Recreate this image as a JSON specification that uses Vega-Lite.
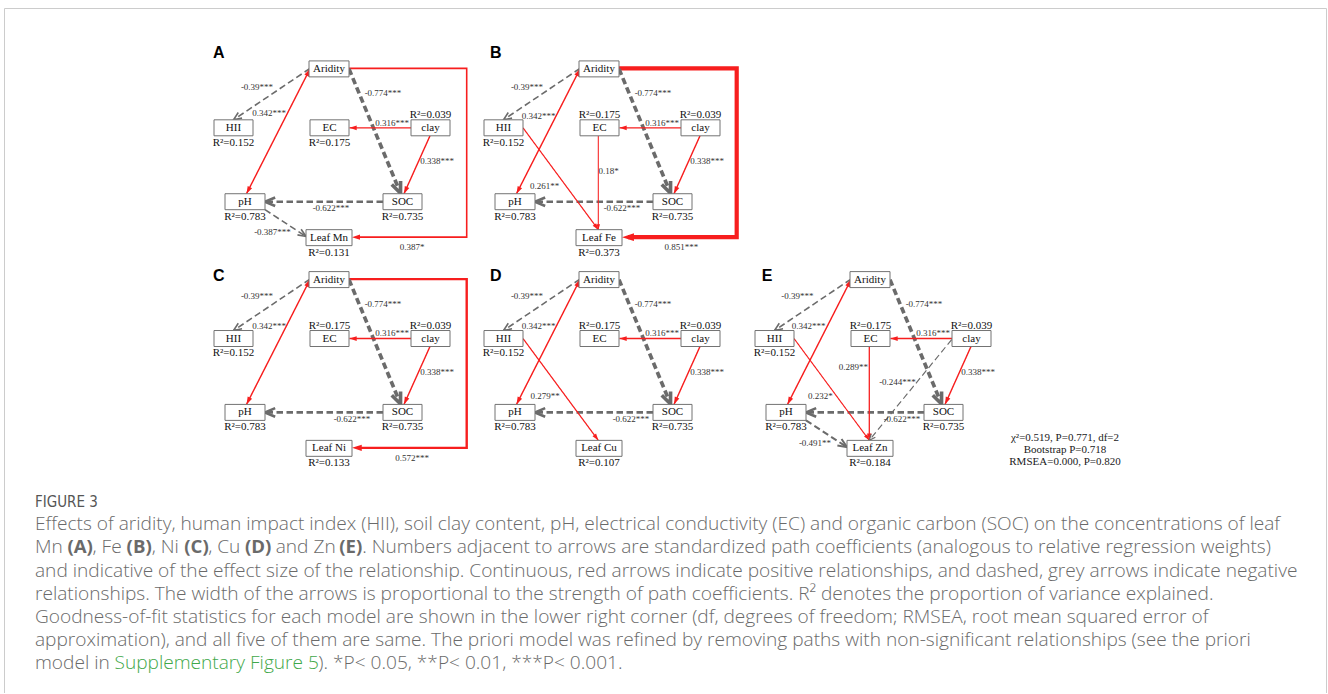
{
"$schema": "https://vega.github.io/schema/vega-lite/v6.json",
"width": 1328,
"height": 694,
"autosize": {"type": "fit", "contains": "padding"},
"padding": 0,
"background": "#ffffff",
"config": {"view": {"stroke": null}},
"datasets": {
"panels": [
{"p":"A","ox":0,"oy":0,"lx":213,"ly":58.3},
{"p":"B","ox":270,"oy":0,"lx":490,"ly":58.3},
{"p":"C","ox":0,"oy":211,"lx":213,"ly":281.7},
{"p":"D","ox":270,"oy":211,"lx":490,"ly":281.7},
{"p":"E","ox":541,"oy":211,"lx":761.7,"ly":281.7}
],
"layout": [
{"k":"Aridity","cx":329,"cy":69,"w":40},
{"k":"HII","cx":233.5,"cy":128,"w":39},
{"k":"EC","cx":329.5,"cy":128,"w":39},
{"k":"clay","cx":430.5,"cy":128,"w":39},
{"k":"pH","cx":245,"cy":202,"w":40},
{"k":"SOC","cx":402.5,"cy":202,"w":39},
{"k":"Leaf","cx":329,"cy":238,"w":46}
],
"nodes": [
{"p":"A","k":"Aridity","t":"Aridity"},
{"p":"A","k":"HII","t":"HII","r2":0.152,"s":"below"},
{"p":"A","k":"EC","t":"EC","r2":0.175,"s":"below"},
{"p":"A","k":"clay","t":"clay","r2":0.039,"s":"above"},
{"p":"A","k":"pH","t":"pH","r2":0.783,"s":"below"},
{"p":"A","k":"SOC","t":"SOC","r2":0.735,"s":"below"},
{"p":"A","k":"Leaf","t":"Leaf Mn","r2":0.131,"s":"below"},
{"p":"B","k":"Aridity","t":"Aridity"},
{"p":"B","k":"HII","t":"HII","r2":0.152,"s":"below"},
{"p":"B","k":"EC","t":"EC","r2":0.175,"s":"above"},
{"p":"B","k":"clay","t":"clay","r2":0.039,"s":"above"},
{"p":"B","k":"pH","t":"pH","r2":0.783,"s":"below"},
{"p":"B","k":"SOC","t":"SOC","r2":0.735,"s":"below"},
{"p":"B","k":"Leaf","t":"Leaf Fe","r2":0.373,"s":"below"},
{"p":"C","k":"Aridity","t":"Aridity"},
{"p":"C","k":"HII","t":"HII","r2":0.152,"s":"below"},
{"p":"C","k":"EC","t":"EC","r2":0.175,"s":"above"},
{"p":"C","k":"clay","t":"clay","r2":0.039,"s":"above"},
{"p":"C","k":"pH","t":"pH","r2":0.783,"s":"below"},
{"p":"C","k":"SOC","t":"SOC","r2":0.735,"s":"below"},
{"p":"C","k":"Leaf","t":"Leaf Ni","r2":0.133,"s":"below"},
{"p":"D","k":"Aridity","t":"Aridity"},
{"p":"D","k":"HII","t":"HII","r2":0.152,"s":"below"},
{"p":"D","k":"EC","t":"EC","r2":0.175,"s":"above"},
{"p":"D","k":"clay","t":"clay","r2":0.039,"s":"above"},
{"p":"D","k":"pH","t":"pH","r2":0.783,"s":"below"},
{"p":"D","k":"SOC","t":"SOC","r2":0.735,"s":"below"},
{"p":"D","k":"Leaf","t":"Leaf Cu","r2":0.107,"s":"below"},
{"p":"E","k":"Aridity","t":"Aridity"},
{"p":"E","k":"HII","t":"HII","r2":0.152,"s":"below"},
{"p":"E","k":"EC","t":"EC","r2":0.175,"s":"above"},
{"p":"E","k":"clay","t":"clay","r2":0.039,"s":"above"},
{"p":"E","k":"pH","t":"pH","r2":0.783,"s":"below"},
{"p":"E","k":"SOC","t":"SOC","r2":0.735,"s":"below"},
{"p":"E","k":"Leaf","t":"Leaf Zn","r2":0.184,"s":"below"}
],
"routes": [
{"r":"AH","x1":310,"y1":68.5,"x2":233.5,"y2":120},
{"r":"AP","x1":310,"y1":69,"x2":246.5,"y2":194,"two":true},
{"r":"AS","x1":349,"y1":69,"x2":400.5,"y2":193.5},
{"r":"CE","x1":411,"y1":128,"x2":349.5,"y2":128},
{"r":"CS","x1":430,"y1":136,"x2":404,"y2":194},
{"r":"SP","x1":383,"y1":202,"x2":265,"y2":202},
{"r":"PL","x1":265,"y1":210,"x2":306,"y2":236.8},
{"r":"HL","x1":253,"y1":128,"x2":328.3,"y2":230},
{"r":"EL","x1":328.3,"y1":136,"x2":328.3,"y2":230},
{"r":"CL","x1":410.7,"y1":129,"x2":328.3,"y2":230},
{"r":"ARL","x1":466.7,"y1":237.5,"x2":352,"y2":237.5,"bend":true}
],
"edges": [
{"p":"A","r":"AH","c":-0.39,"g":"***","lx":257,"ly":86.7},
{"p":"A","r":"AP","c":0.342,"g":"***","lx":269,"ly":113.3},
{"p":"A","r":"AS","c":-0.774,"g":"***","lx":383,"ly":93.2},
{"p":"A","r":"CE","c":0.316,"g":"***","lx":392,"ly":122.7},
{"p":"A","r":"CS","c":0.338,"g":"***","lx":437,"ly":161.5},
{"p":"A","r":"SP","c":-0.622,"g":"***","lx":331,"ly":208.4},
{"p":"A","r":"PL","c":-0.387,"g":"***","lx":272.5,"ly":232.7},
{"p":"A","r":"ARL","c":0.387,"g":"*","lx":412,"ly":247.3},
{"p":"B","r":"AH","c":-0.39,"g":"***","lx":257,"ly":86.7},
{"p":"B","r":"AP","c":0.342,"g":"***","lx":268.5,"ly":116},
{"p":"B","r":"AS","c":-0.774,"g":"***","lx":383,"ly":93.2},
{"p":"B","r":"CE","c":0.316,"g":"***","lx":392,"ly":122.7},
{"p":"B","r":"CS","c":0.338,"g":"***","lx":437,"ly":161.5},
{"p":"B","r":"SP","c":-0.622,"g":"***","lx":352,"ly":208.4},
{"p":"B","r":"HL","c":0.261,"g":"**","lx":274.7,"ly":186},
{"p":"B","r":"EL","c":0.18,"g":"*","lx":338.7,"ly":171},
{"p":"B","r":"ARL","c":0.851,"g":"***","lx":411.3,"ly":247.3},
{"p":"C","r":"AH","c":-0.39,"g":"***","lx":257,"ly":85.7},
{"p":"C","r":"AP","c":0.342,"g":"***","lx":269,"ly":115},
{"p":"C","r":"AS","c":-0.774,"g":"***","lx":383,"ly":93.2},
{"p":"C","r":"CE","c":0.316,"g":"***","lx":392,"ly":122.7},
{"p":"C","r":"CS","c":0.338,"g":"***","lx":437,"ly":161.5},
{"p":"C","r":"SP","c":-0.622,"g":"***","lx":352,"ly":209},
{"p":"C","r":"ARL","c":0.572,"g":"***","lx":412,"ly":247.3},
{"p":"D","r":"AH","c":-0.39,"g":"***","lx":257,"ly":85.7},
{"p":"D","r":"AP","c":0.342,"g":"***","lx":268.7,"ly":115},
{"p":"D","r":"AS","c":-0.774,"g":"***","lx":383,"ly":93.2},
{"p":"D","r":"CE","c":0.316,"g":"***","lx":392,"ly":122.7},
{"p":"D","r":"CS","c":0.338,"g":"***","lx":437,"ly":161.5},
{"p":"D","r":"SP","c":-0.622,"g":"***","lx":361,"ly":208.3},
{"p":"D","r":"HL","c":0.279,"g":"**","lx":275,"ly":185.7},
{"p":"E","r":"AH","c":-0.39,"g":"***","lx":256.3,"ly":85.7},
{"p":"E","r":"AP","c":0.342,"g":"***","lx":267.7,"ly":115},
{"p":"E","r":"AS","c":-0.774,"g":"***","lx":383,"ly":93.2},
{"p":"E","r":"CE","c":0.316,"g":"***","lx":392,"ly":122.7},
{"p":"E","r":"CS","c":0.338,"g":"***","lx":437,"ly":161.5},
{"p":"E","r":"SP","c":-0.622,"g":"***","lx":361,"ly":209},
{"p":"E","r":"HL","c":0.232,"g":"*","lx":279.3,"ly":185.7},
{"p":"E","r":"EL","c":0.289,"g":"**","lx":312.3,"ly":156.3},
{"p":"E","r":"CL","c":-0.244,"g":"***","lx":356.5,"ly":171.7},
{"p":"E","r":"PL","c":-0.491,"g":"**","lx":274,"ly":232.3}
],
"elbow": [
{"p":"A","i":0,"x":349,"y":68.5,"c":0.387},
{"p":"A","i":1,"x":466.7,"y":68.5,"c":0.387},
{"p":"A","i":2,"x":466.7,"y":237.5,"c":0.387},
{"p":"A","i":3,"x":358,"y":237.5,"c":0.387},
{"p":"B","i":0,"x":349,"y":68.5,"c":0.851},
{"p":"B","i":1,"x":466.7,"y":68.5,"c":0.851},
{"p":"B","i":2,"x":466.7,"y":237.5,"c":0.851},
{"p":"B","i":3,"x":358,"y":237.5,"c":0.851},
{"p":"C","i":0,"x":349,"y":68.5,"c":0.572},
{"p":"C","i":1,"x":466.7,"y":68.5,"c":0.572},
{"p":"C","i":2,"x":466.7,"y":237.5,"c":0.572},
{"p":"C","i":3,"x":358,"y":237.5,"c":0.572}
],
"stats": [
{"t":"χ²=0.519, P=0.771, df=2","x":1065,"y":438.3},
{"t":"Bootstrap P=0.718","x":1065,"y":450.7},
{"t":"RMSEA=0.000, P=0.820","x":1065,"y":462.7}
],
"frame": [
{"x1":4.5,"y1":8.5,"x2":1326.5,"y2":8.5},
{"x1":4.5,"y1":8.5,"x2":4.5,"y2":694},
{"x1":1326.5,"y1":8.5,"x2":1326.5,"y2":694}
],
"fig": [{"t":"FIGURE 3","x":35,"y":507.5}],
"plain": [
{"t":"Effects of aridity, human impact index (HII), soil clay content, pH, electrical conductivity (EC) and organic carbon (SOC) on the concentrations of leaf","x":35,"y":531},
{"t":"Mn","x":35,"y":554.2},
{"t":", Fe","x":92.5,"y":554.2},
{"t":", Ni","x":151.7,"y":554.2},
{"t":", Cu","x":208.2,"y":554.2},
{"t":"and Zn","x":275.7,"y":554.2},
{"t":". Numbers adjacent to arrows are standardized path coefficients (analogous to relative regression weights)","x":362.2,"y":554.2},
{"t":"and indicative of the effect size of the relationship. Continuous, red arrows indicate positive relationships, and dashed, grey arrows indicate negative","x":35,"y":577.4},
{"t":"relationships. The width of the arrows is proportional to the strength of path coefficients. R² denotes the proportion of variance explained.","x":35,"y":600.6},
{"t":"Goodness-of-fit statistics for each model are shown in the lower right corner (df, degrees of freedom; RMSEA, root mean squared error of","x":35,"y":623.8},
{"t":"approximation), and all five of them are same. The priori model was refined by removing paths with non-significant relationships (see the priori","x":35,"y":647},
{"t":"model in","x":35,"y":670.2},
{"t":"). *P< 0.05, **P< 0.01, ***P< 0.001.","x":318.3,"y":670.2}
],
"bold": [
{"t":"(A)","x":67.4,"y":554.2},
{"t":"(B)","x":126.6,"y":554.2},
{"t":"(C)","x":184.3,"y":554.2},
{"t":"(D)","x":245.0,"y":554.2},
{"t":"(E)","x":339.3,"y":554.2}
],
"green": [
{"t":"Supplementary Figure 5","x":114.5,"y":670.2}
]
},
"layer": [
{
"data": {"name": "frame"},
"mark": {"type": "rule", "color": "#cccccc", "strokeWidth": 1},
"encoding": {
"x": {"field": "x1", "type": "quantitative", "scale": {"domain": [0, 1328], "nice": false, "zero": false}, "axis": null},
"y": {"field": "y1", "type": "quantitative", "scale": {"domain": [0, 694], "nice": false, "zero": false, "reverse": true}, "axis": null},
"x2": {"field": "x2"},
"y2": {"field": "y2"}
}
},
{
"data": {"name": "elbow"},
"transform": [
{"lookup": "p", "from": {"data": {"name": "panels"}, "key": "p", "fields": ["ox", "oy"]}},
{"calculate": "datum.x + datum.ox", "as": "X"},
{"calculate": "datum.y + datum.oy", "as": "Y"},
{"calculate": "datum.c > 0 ? 'pos' : 'neg'", "as": "sg"},
{"calculate": "abs(datum.c)", "as": "a"}
],
"mark": {"type": "line", "strokeJoin": "miter", "strokeCap": "butt"},
"encoding": {
"x": {"field": "X", "type": "quantitative", "scale": {"domain": [0, 1328], "nice": false, "zero": false}, "axis": null},
"y": {"field": "Y", "type": "quantitative", "scale": {"domain": [0, 694], "nice": false, "zero": false, "reverse": true}, "axis": null},
"order": {"field": "i", "type": "quantitative"},
"detail": {"field": "p", "type": "nominal"},
"color": {"field": "sg", "type": "nominal", "scale": {"domain": ["pos", "neg"], "range": ["#f71e1e", "#6b6b6b"]}, "legend": null},
"strokeWidth": {"field": "a", "type": "quantitative", "scale": {"type": "pow", "exponent": 2, "domain": [0, 0.9], "range": [0.9, 4.6]}, "legend": null}
}
},
{
"data": {"name": "edges"},
"transform": [
{"lookup": "r", "from": {"data": {"name": "routes"}, "key": "r", "fields": ["x1", "y1", "x2", "y2", "two", "bend"]}},
{"lookup": "p", "from": {"data": {"name": "panels"}, "key": "p", "fields": ["ox", "oy"]}},
{"calculate": "datum.x1 + datum.ox", "as": "X1"},
{"calculate": "datum.y1 + datum.oy", "as": "Y1"},
{"calculate": "datum.x2 + datum.ox", "as": "X2"},
{"calculate": "datum.y2 + datum.oy", "as": "Y2"},
{"calculate": "datum.c > 0 ? 'pos' : 'neg'", "as": "sg"},
{"calculate": "abs(datum.c)", "as": "a"},
{"calculate": "atan2(datum.X2 - datum.X1, datum.Y1 - datum.Y2) * 180 / PI", "as": "ang"},
{"calculate": "atan2(datum.X1 - datum.X2, datum.Y2 - datum.Y1) * 180 / PI", "as": "ang0"}
],
"layer": [
{
"transform": [{"filter": "!datum.bend"}],
"mark": {"type": "rule", "strokeCap": "butt"},
"encoding": {
"x": {"field": "X1", "type": "quantitative", "scale": {"domain": [0, 1328], "nice": false, "zero": false}, "axis": null},
"y": {"field": "Y1", "type": "quantitative", "scale": {"domain": [0, 694], "nice": false, "zero": false, "reverse": true}, "axis": null},
"x2": {"field": "X2"},
"y2": {"field": "Y2"},
"color": {"field": "sg", "type": "nominal", "scale": {"domain": ["pos", "neg"], "range": ["#f71e1e", "#6b6b6b"]}, "legend": null},
"strokeDash": {"field": "sg", "type": "nominal", "scale": {"domain": ["pos", "neg"], "range": [[1, 0], [6.5, 3.5]]}, "legend": null},
"strokeWidth": {"field": "a", "type": "quantitative", "scale": {"type": "pow", "exponent": 2, "domain": [0, 0.9], "range": [0.9, 4.6]}, "legend": null}
}
},
{
"transform": [{"filter": "datum.c > 0"}],
"mark": {"type": "point", "shape": "M0,0L0.33,1L-0.33,1Z", "filled": true, "opacity": 1},
"encoding": {
"x": {"field": "X2", "type": "quantitative", "scale": {"domain": [0, 1328], "nice": false, "zero": false}, "axis": null},
"y": {"field": "Y2", "type": "quantitative", "scale": {"domain": [0, 694], "nice": false, "zero": false, "reverse": true}, "axis": null},
"color": {"field": "sg", "type": "nominal", "scale": {"domain": ["pos", "neg"], "range": ["#f71e1e", "#6b6b6b"]}, "legend": null},
"size": {"field": "a", "type": "quantitative", "scale": {"type": "linear", "domain": [0.2, 0.9], "range": [130, 600], "zero": false}, "legend": null},
"angle": {"field": "ang", "type": "quantitative", "scale": null}
}
},
{
"transform": [{"filter": "datum.c > 0 && datum.two"}],
"mark": {"type": "point", "shape": "M0,0L0.33,1L-0.33,1Z", "filled": true, "opacity": 1},
"encoding": {
"x": {"field": "X1", "type": "quantitative", "scale": {"domain": [0, 1328], "nice": false, "zero": false}, "axis": null},
"y": {"field": "Y1", "type": "quantitative", "scale": {"domain": [0, 694], "nice": false, "zero": false, "reverse": true}, "axis": null},
"color": {"field": "sg", "type": "nominal", "scale": {"domain": ["pos", "neg"], "range": ["#f71e1e", "#6b6b6b"]}, "legend": null},
"size": {"field": "a", "type": "quantitative", "scale": {"type": "linear", "domain": [0.2, 0.9], "range": [130, 600], "zero": false}, "legend": null},
"angle": {"field": "ang0", "type": "quantitative", "scale": null}
}
},
{
"transform": [{"filter": "datum.c < 0"}],
"mark": {"type": "point", "shape": "M-0.42,1L0,0L0.42,1", "filled": false, "opacity": 1, "strokeJoin": "miter", "strokeCap": "butt"},
"encoding": {
"x": {"field": "X2", "type": "quantitative", "scale": {"domain": [0, 1328], "nice": false, "zero": false}, "axis": null},
"y": {"field": "Y2", "type": "quantitative", "scale": {"domain": [0, 694], "nice": false, "zero": false, "reverse": true}, "axis": null},
"color": {"field": "sg", "type": "nominal", "scale": {"domain": ["pos", "neg"], "range": ["#f71e1e", "#6b6b6b"]}, "legend": null},
"size": {"field": "a", "type": "quantitative", "scale": {"type": "linear", "domain": [0.2, 0.9], "range": [130, 600], "zero": false}, "legend": null},
"strokeWidth": {"field": "a", "type": "quantitative", "scale": {"type": "pow", "exponent": 2, "domain": [0, 0.9], "range": [0.9, 4.6]}, "legend": null},
"angle": {"field": "ang", "type": "quantitative", "scale": null}
}
}
]
},
{
"data": {"name": "nodes"},
"transform": [
{"lookup": "k", "from": {"data": {"name": "layout"}, "key": "k", "fields": ["cx", "cy", "w"]}},
{"lookup": "p", "from": {"data": {"name": "panels"}, "key": "p", "fields": ["ox", "oy"]}},
{"calculate": "datum.cx + datum.ox", "as": "X"},
{"calculate": "datum.cy + datum.oy", "as": "Y"},
{"calculate": "datum.X - datum.w / 2", "as": "XL"},
{"calculate": "datum.X + datum.w / 2", "as": "XR"},
{"calculate": "datum.Y - 8", "as": "YT"},
{"calculate": "datum.Y + 8", "as": "YB"},
{"calculate": "datum.s == 'above' ? datum.Y - 13 : datum.Y + 15", "as": "RY"},
{"calculate": "'R²=' + format(datum.r2, '.3f')", "as": "RT"}
],
"layer": [
{
"mark": {"type": "rect", "fill": "#ffffff", "stroke": "#737373", "strokeWidth": 1},
"encoding": {
"x": {"field": "XL", "type": "quantitative", "scale": {"domain": [0, 1328], "nice": false, "zero": false}, "axis": null},
"x2": {"field": "XR"},
"y": {"field": "YT", "type": "quantitative", "scale": {"domain": [0, 694], "nice": false, "zero": false, "reverse": true}, "axis": null},
"y2": {"field": "YB"}
}
},
{
"mark": {"type": "text", "font": "Liberation Serif", "fontSize": 11, "color": "#111111", "align": "center", "baseline": "middle"},
"encoding": {
"x": {"field": "X", "type": "quantitative", "scale": {"domain": [0, 1328], "nice": false, "zero": false}, "axis": null},
"y": {"field": "Y", "type": "quantitative", "scale": {"domain": [0, 694], "nice": false, "zero": false, "reverse": true}, "axis": null},
"text": {"field": "t"}
}
},
{
"transform": [{"filter": "isValid(datum.r2)"}],
"mark": {"type": "text", "font": "Liberation Serif", "fontSize": 11, "color": "#111111", "align": "center", "baseline": "middle"},
"encoding": {
"x": {"field": "X", "type": "quantitative", "scale": {"domain": [0, 1328], "nice": false, "zero": false}, "axis": null},
"y": {"field": "RY", "type": "quantitative", "scale": {"domain": [0, 694], "nice": false, "zero": false, "reverse": true}, "axis": null},
"text": {"field": "RT"}
}
}
]
},
{
"data": {"name": "edges"},
"transform": [
{"lookup": "p", "from": {"data": {"name": "panels"}, "key": "p", "fields": ["ox", "oy"]}},
{"calculate": "datum.lx + datum.ox", "as": "LX"},
{"calculate": "datum.ly + datum.oy", "as": "LY"},
{"calculate": "'' + datum.c + datum.g", "as": "lab"}
],
"mark": {"type": "text", "font": "Liberation Serif", "fontSize": 9, "color": "#333333", "align": "center", "baseline": "middle"},
"encoding": {
"x": {"field": "LX", "type": "quantitative", "scale": {"domain": [0, 1328], "nice": false, "zero": false}, "axis": null},
"y": {"field": "LY", "type": "quantitative", "scale": {"domain": [0, 694], "nice": false, "zero": false, "reverse": true}, "axis": null},
"text": {"field": "lab"}
}
},
{
"data": {"name": "panels"},
"mark": {"type": "text", "font": "Liberation Sans", "fontWeight": "bold", "fontSize": 16, "color": "#000000", "align": "left", "baseline": "alphabetic"},
"encoding": {
"x": {"field": "lx", "type": "quantitative", "scale": {"domain": [0, 1328], "nice": false, "zero": false}, "axis": null},
"y": {"field": "ly", "type": "quantitative", "scale": {"domain": [0, 694], "nice": false, "zero": false, "reverse": true}, "axis": null},
"text": {"field": "p"}
}
},
{
"data": {"name": "stats"},
"mark": {"type": "text", "font": "Liberation Serif", "fontSize": 11, "color": "#1a1a1a", "align": "center", "baseline": "middle"},
"encoding": {
"x": {"field": "x", "type": "quantitative", "scale": {"domain": [0, 1328], "nice": false, "zero": false}, "axis": null},
"y": {"field": "y", "type": "quantitative", "scale": {"domain": [0, 694], "nice": false, "zero": false, "reverse": true}, "axis": null},
"text": {"field": "t"}
}
},
{
"data": {"name": "fig"},
"mark": {"type": "text", "font": "Liberation Sans Narrow, DejaVu Sans Condensed, Roboto", "fontSize": 15, "color": "#555555", "align": "left", "baseline": "alphabetic"},
"encoding": {
"x": {"field": "x", "type": "quantitative", "scale": {"domain": [0, 1328], "nice": false, "zero": false}, "axis": null},
"y": {"field": "y", "type": "quantitative", "scale": {"domain": [0, 694], "nice": false, "zero": false, "reverse": true}, "axis": null},
"text": {"field": "t"}
}
},
{
"data": {"name": "plain"},
"mark": {"type": "text", "font": "Open Sans", "fontSize": 19.1, "fontWeight": 300, "color": "#6a6a6a", "align": "left", "baseline": "alphabetic", "lineHeight": 22},
"encoding": {
"x": {"field": "x", "type": "quantitative", "scale": {"domain": [0, 1328], "nice": false, "zero": false}, "axis": null},
"y": {"field": "y", "type": "quantitative", "scale": {"domain": [0, 694], "nice": false, "zero": false, "reverse": true}, "axis": null},
"text": {"field": "t"}
}
},
{
"data": {"name": "bold"},
"mark": {"type": "text", "font": "Open Sans", "fontSize": 18.6, "fontWeight": "bold", "color": "#6a6a6a", "align": "left", "baseline": "alphabetic", "lineHeight": 22},
"encoding": {
"x": {"field": "x", "type": "quantitative", "scale": {"domain": [0, 1328], "nice": false, "zero": false}, "axis": null},
"y": {"field": "y", "type": "quantitative", "scale": {"domain": [0, 694], "nice": false, "zero": false, "reverse": true}, "axis": null},
"text": {"field": "t"}
}
},
{
"data": {"name": "green"},
"mark": {"type": "text", "font": "Open Sans", "fontSize": 19.1, "fontWeight": 300, "color": "#3fa84a", "align": "left", "baseline": "alphabetic", "lineHeight": 22},
"encoding": {
"x": {"field": "x", "type": "quantitative", "scale": {"domain": [0, 1328], "nice": false, "zero": false}, "axis": null},
"y": {"field": "y", "type": "quantitative", "scale": {"domain": [0, 694], "nice": false, "zero": false, "reverse": true}, "axis": null},
"text": {"field": "t"}
}
}
]
}
